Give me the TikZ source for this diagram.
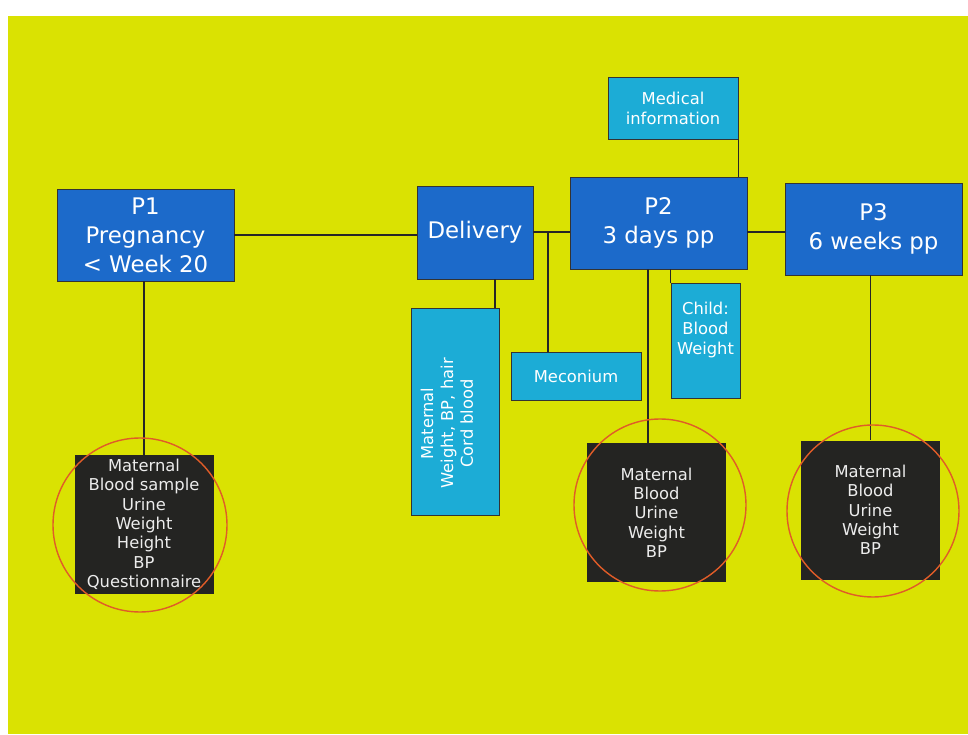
\documentclass[tikz,border=0pt]{standalone}
\usepackage{fontspec}
\setmainfont{DejaVu Sans}
\definecolor{sfondo}{RGB}{218,226,2}
\definecolor{blu}{RGB}{28,106,202}
\definecolor{azzurro}{RGB}{28,172,214}
\definecolor{nero}{RGB}{36,36,34}
\definecolor{cerchio}{RGB}{224,92,40}

\begin{document}
\begin{tikzpicture}[
    fase/.style={draw=black!80, fill=blu, text=white, align=center, inner sep=0pt,
        font=\fontsize{13}{16.5}\selectfont, minimum width=3.54cm, minimum height=1.84cm},
    info/.style={draw=black!80, fill=azzurro, text=white, align=center, inner sep=0pt,
        font=\fontsize{9.3}{11.3}\selectfont},
    dati/.style={fill=nero, text=white!85!gray, align=center, inner sep=0pt,
        font=\fontsize{9.3}{11}\selectfont, minimum width=2.78cm, minimum height=2.78cm},
    linea/.style={black!85, line width=0.6pt},
    anello/.style={cerchio, line width=0.8pt}]
    % Sfondo
    \useasboundingbox (0,0) rectangle (19.36,14.68);
    \fill[sfondo] (0.16,0) rectangle (19.36,14.36);
    % Fasi
    \node[fase] (P1) at (2.91,9.98) {P1\\Pregnancy\\< Week 20};
    \node[fase, minimum width=2.32cm, minimum height=1.86cm] (Delivery) at (9.50,10.03) {Delivery};
    \node[fase] (P2) at (13.17,10.22) {P2\\3 days pp};
    \node[fase] (P3) at (17.47,10.10) {P3\\6 weeks pp};
    % Informazioni
    \node[info, minimum width=2.60cm, minimum height=1.24cm] (Med) at (13.46,12.52) {Medical\\information};
    \node[info, rotate=90, minimum width=4.14cm, minimum height=1.76cm] (Mat) at (9.10,6.45) {};
    \node[rotate=90, text=white, align=center, font=\fontsize{9.3}{11.3}\selectfont] at (8.94,6.21) {Maternal\\Weight, BP, hair\\Cord blood};
    \node[info, minimum width=2.60cm, minimum height=0.96cm] (Mec) at (11.52,7.16) {Meconium};
    \node[info, minimum width=1.38cm, minimum height=2.30cm] (Child) at (14.11,7.87) {Child:\\Blood\\Weight\\[3pt]};
    % Campioni
    \node[dati] (M1) at (2.88,4.19) {Maternal\\Blood sample\\Urine\\Weight\\Height\\BP\\Questionnaire};
    \node[dati] (M2) at (13.13,4.43) {Maternal\\Blood\\Urine\\Weight\\BP};
    \node[dati] (M3) at (17.41,4.48) {Maternal\\Blood\\Urine\\Weight\\BP};
    % Coordinate
    \coordinate (jM) at (10.96,10.04);
    \coordinate (jD) at (9.90,0);
    \coordinate (jP2) at (12.96,0);
    % Linee
    \draw[linea] (P1.east) -- (P1.east -| Delivery.west);
    \draw[linea] (Delivery.east |- jM) -- (P2.west |- jM);
    \draw[linea] (P2.east |- jM) -- (P3.west |- jM);
    \draw[linea] (jM) -- (jM |- Mec.north);
    \draw[linea] (jD |- Delivery.south) -- (jD |- Mat.east);
    \draw[linea] (Med.south east) -- (Med.south east |- P2.north);
    \draw[linea] (M1.north |- P1.south) -- (M1.north);
    \draw[linea] (jP2 |- P2.south) -- (jP2 |- M2.north);
    \draw[linea] (Child.north west |- P2.south) -- (Child.north west);
    \draw[linea] (M3.north |- P3.south) -- (M3.north);
    % Cerchi
    \draw[anello] (2.80,4.18) circle (1.74);
    \draw[anello] (13.20,4.58) circle (1.72);
    \draw[anello] (17.46,4.46) circle (1.72);
\end{tikzpicture}
\end{document}
